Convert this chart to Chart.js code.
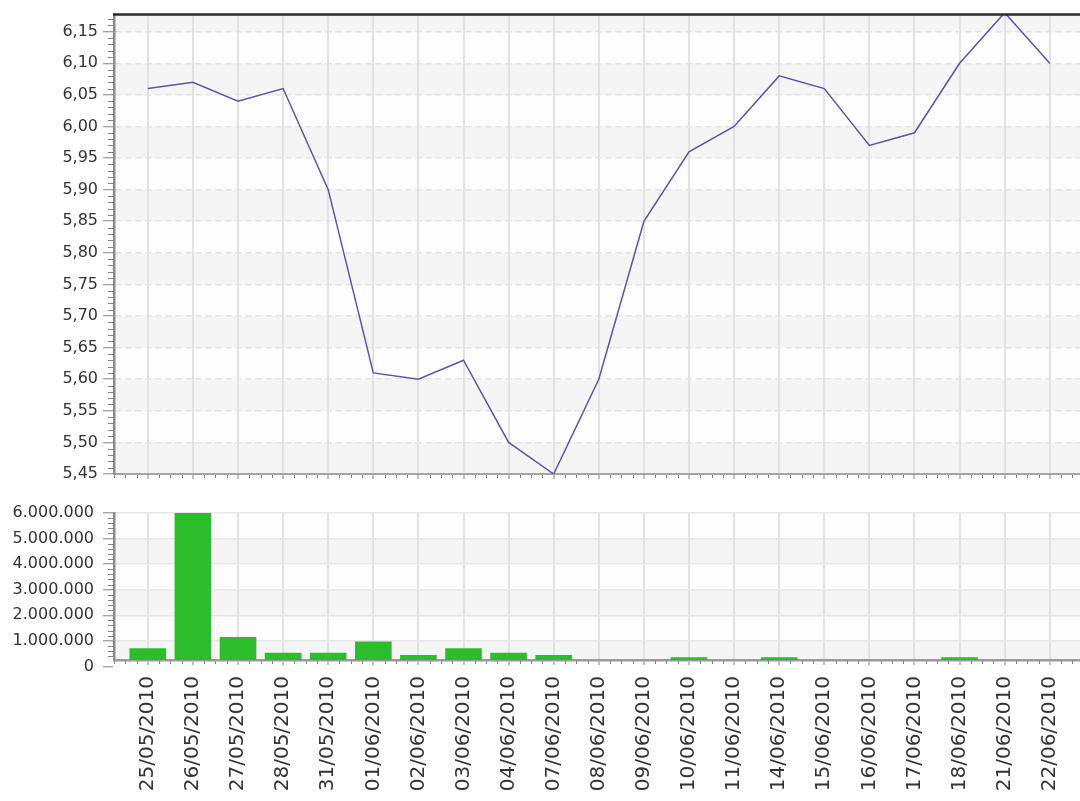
<!DOCTYPE html>
<html>
<head>
<meta charset="utf-8">
<title>Cotización y volumen</title>
<script src="https://cdn.jsdelivr.net/npm/chart.js@4.4.1/dist/chart.umd.min.js"></script>
<style>
  html, body { margin: 0; padding: 0; background: #fff; }
  body { width: 1080px; height: 801px; overflow: hidden; }
  canvas { display: block; }
</style>
</head>
<body>
<canvas id="chart-price" width="1080" height="490"></canvas>
<canvas id="chart-volume" width="1080" height="311"></canvas>
<script>
const sessions = [
  "25/05/2010", "26/05/2010", "27/05/2010", "28/05/2010", "31/05/2010",
  "01/06/2010", "02/06/2010", "03/06/2010", "04/06/2010", "07/06/2010",
  "08/06/2010", "09/06/2010", "10/06/2010", "11/06/2010", "14/06/2010",
  "15/06/2010", "16/06/2010", "17/06/2010", "18/06/2010", "21/06/2010",
  "22/06/2010",
];

const closes = [
  6.06, 6.07, 6.04, 6.06, 5.90,
  5.61, 5.60, 5.63, 5.50, 5.45,
  5.60, 5.85, 5.96, 6.00, 6.08,
  6.06, 5.97, 5.99, 6.10, 6.18,
  6.10,
];

const volumes = [
  700000, 6000000, 1140000, 520000, 520000,
  960000, 430000, 700000, 520000, 430000,
  200000, 200000, 340000, 200000, 340000,
  200000, 200000, 200000, 340000, 200000,
  200000,
];

const priceTickLabels = [
  "5,45", "5,50", "5,55", "5,60", "5,65", "5,70", "5,75", "5,80",
  "5,85", "5,90", "5,95", "6,00", "6,05", "6,10", "6,15",
];

const volumeTickLabels = [
  "0", "1.000.000", "2.000.000", "3.000.000", "4.000.000", "5.000.000", "6.000.000",
];

const priceTicks = priceTickLabels.map((l) => parseFloat(l.replace(",", ".")));
const volumeTicks = volumeTickLabels.map((l) => Number(l.replace(/\./g, "")));

Chart.defaults.font.family = "'DejaVu Sans', sans-serif";
Chart.defaults.color = "#333";

const AXIS = "#8c8c8c";
const TICK = "#858585";

// striped background bands, minor tick marks and the dark top rule
const chartFrame = {
  id: "chartFrame",
  beforeDraw(chart, args, opts) {
    const { ctx, chartArea: a } = chart;
    const y = chart.scales.y;
    ctx.save();
    ctx.beginPath();
    ctx.rect(a.left, a.top, a.right - a.left, a.bottom - a.top);
    ctx.clip();
    for (let k = 0; opts.bandFrom + k * opts.bandStep < y.max; k++) {
      const lo = opts.bandFrom + k * opts.bandStep;
      const y0 = y.getPixelForValue(lo);
      const y1 = y.getPixelForValue(lo + opts.bandStep);
      ctx.fillStyle = k % 2 === 0 ? "#f5f5f5" : "#fdfdfd";
      ctx.fillRect(a.left, y1, a.right - a.left, y0 - y1);
    }
    ctx.restore();
  },
  afterDraw(chart, args, opts) {
    const { ctx, chartArea: a } = chart;
    const { x, y } = chart.scales;
    ctx.save();
    ctx.strokeStyle = TICK;
    ctx.lineWidth = 1;
    ctx.beginPath();
    for (let i = Math.ceil(x.min * 4); i <= x.max * 4; i++) {
      if (i % 4 === 0) continue;
      const px = Math.round(x.getPixelForValue(i / 4)) + 0.5;
      ctx.moveTo(px, a.bottom + 1);
      ctx.lineTo(px, a.bottom + 4);
    }
    const sub = opts.bandStep / 5;
    for (let i = 0; opts.bandFrom + i * sub <= y.max + 1e-9; i++) {
      if (i % 5 === 0) continue;
      const v = opts.bandFrom + i * sub;
      if (v < y.min) continue;
      const py = Math.round(y.getPixelForValue(v)) + 0.5;
      ctx.moveTo(a.left - 6, py);
      ctx.lineTo(a.left, py);
    }
    ctx.stroke();
    if (opts.topRule) {
      ctx.strokeStyle = "#2a2a2a";
      ctx.lineWidth = 2.5;
      ctx.beginPath();
      ctx.moveTo(a.left - 1, a.top);
      ctx.lineTo(a.right, a.top);
      ctx.stroke();
    }
    ctx.restore();
  },
};

const sessionTicks = (s) => {
  s.ticks = sessions.map((_, i) => ({ value: i }));
};

// keep the plot running to the right edge, whatever the last label needs
const flushX = (height) => (s) => {
  s.height = height;
  s.paddingLeft = 0;
  s.paddingRight = 0;
};

new Chart(document.getElementById("chart-price"), {
  type: "line",
  data: {
    datasets: [{
      data: closes.map((c, i) => ({ x: i, y: c })),
      borderColor: "#5656a8",
      borderWidth: 1.5,
      pointRadius: 0,
      tension: 0,
    }],
  },
  options: {
    responsive: false,
    animation: false,
    events: [],
    layout: { padding: { top: 13, right: 0, bottom: 0, left: 0 } },
    plugins: {
      legend: { display: false },
      tooltip: { enabled: false },
      chartFrame: { bandFrom: 5.45, bandStep: 0.05, topRule: true },
    },
    scales: {
      x: {
        type: "linear",
        min: -0.75,
        max: 20.67,
        offset: false,
        afterBuildTicks: sessionTicks,
        afterFit: flushX(16),
        ticks: { display: false },
        grid: { offset: false, color: "#e2e2e2", lineWidth: 2, tickLength: 5, tickColor: TICK, tickWidth: 1 },
        border: { color: "#a5a5a5", width: 2 },
      },
      y: {
        min: 5.45,
        max: 6.177,
        afterBuildTicks: (s) => { s.ticks = priceTicks.map((v) => ({ value: v })); },
        afterFit: (s) => { s.width = 114; },
        ticks: {
          callback: (v, i) => priceTickLabels[i],
          font: { size: 16 },
          color: "#333",
          padding: 5,
        },
        grid: { color: "#e4e4e4", lineWidth: 1.5, tickLength: 11, tickColor: TICK, tickWidth: 1 },
        border: { color: AXIS, width: 2.5, dash: [6, 4] },
      },
    },
  },
  plugins: [chartFrame],
});

new Chart(document.getElementById("chart-volume"), {
  type: "bar",
  data: {
    datasets: [{
      data: volumes.map((v, i) => ({ x: i, y: v })),
      backgroundColor: "#2cbd2c",
      borderWidth: 0,
      barThickness: 36,
      clip: 0,
    }],
  },
  options: {
    responsive: false,
    animation: false,
    events: [],
    layout: { padding: { top: 23, right: 0, bottom: 0, left: 0 } },
    plugins: {
      legend: { display: false },
      tooltip: { enabled: false },
      chartFrame: { bandFrom: 0, bandStep: 1000000, topRule: false },
    },
    scales: {
      x: {
        type: "linear",
        min: -0.75,
        max: 20.67,
        offset: false,
        afterBuildTicks: sessionTicks,
        afterFit: flushX(141),
        ticks: {
          autoSkip: false,
          minRotation: 90,
          maxRotation: 90,
          padding: 11,
          callback: (v) => sessions[v],
          font: { size: 20 },
          color: "#333",
        },
        grid: { offset: false, color: "#e2e2e2", lineWidth: 2, tickLength: 5, tickColor: TICK, tickWidth: 1 },
        border: { color: "#9a9a9a", width: 2.5 },
      },
      y: {
        min: 250000,
        max: 6000000,
        afterBuildTicks: (s) => { s.ticks = volumeTicks.map((v) => ({ value: v })); },
        afterFit: (s) => { s.width = 114; },
        ticks: {
          callback: (v, i) => volumeTickLabels[i],
          font: { size: 16 },
          color: "#333",
          padding: 9,
        },
        grid: {
          color: (c) => (c.tick && c.tick.value === 0 ? "rgba(0,0,0,0)" : "#e8e8e8"),
          lineWidth: 1.5,
          tickLength: 11,
          tickColor: TICK,
          tickWidth: 1,
        },
        border: { color: AXIS, width: 2.5 },
      },
    },
  },
  plugins: [chartFrame],
});
</script>
</body>
</html>
